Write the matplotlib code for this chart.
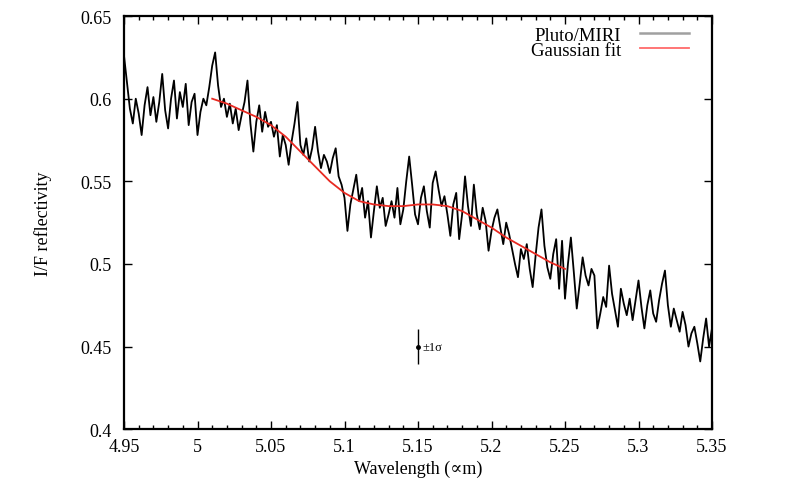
import numpy as np
import matplotlib
matplotlib.use("Agg")
import matplotlib.pyplot as plt
from matplotlib.lines import Line2D
from matplotlib.ticker import MultipleLocator

# ---- data ----
wl_start, wl_step = 4.95, 0.002
refl = [
    # 4.950 - 4.998
    0.626, 0.610, 0.594, 0.585, 0.600, 0.591, 0.578, 0.596, 0.607, 0.590,
    0.601, 0.586, 0.598, 0.615, 0.593, 0.582, 0.600, 0.611, 0.588, 0.604,
    0.595, 0.609, 0.584, 0.598, 0.603,
    # 5.000 - 5.048
    0.578, 0.592, 0.600, 0.596, 0.607, 0.620, 0.628, 0.608, 0.595, 0.600,
    0.589, 0.597, 0.585, 0.594, 0.581, 0.590, 0.598, 0.611, 0.585, 0.568,
    0.586, 0.596, 0.580, 0.592, 0.583,
    # 5.050 - 5.098
    0.586, 0.577, 0.584, 0.565, 0.578, 0.572, 0.560, 0.574, 0.585, 0.598,
    0.572, 0.566, 0.576, 0.562, 0.570, 0.583, 0.568, 0.558, 0.566, 0.562,
    0.555, 0.564, 0.570, 0.553, 0.548,
    # 5.100 - 5.148
    0.540, 0.520, 0.536, 0.545, 0.554, 0.538, 0.546, 0.528, 0.538, 0.516,
    0.532, 0.547, 0.534, 0.540, 0.523, 0.530, 0.538, 0.528, 0.546, 0.524,
    0.533, 0.550, 0.565, 0.548, 0.530,
    # 5.150 - 5.198
    0.524, 0.540, 0.547, 0.532, 0.522, 0.549, 0.556, 0.545, 0.535, 0.541,
    0.530, 0.517, 0.536, 0.543, 0.515, 0.530, 0.553, 0.535, 0.523, 0.548,
    0.530, 0.521, 0.534, 0.526, 0.508,
    # 5.200 - 5.248
    0.520, 0.528, 0.533, 0.522, 0.512, 0.525, 0.518, 0.509, 0.500, 0.492,
    0.509, 0.503, 0.512, 0.497, 0.486, 0.505, 0.522, 0.533, 0.511, 0.498,
    0.491, 0.506, 0.515, 0.485, 0.514,
    # 5.250 - 5.298
    0.479, 0.500, 0.516, 0.495, 0.473, 0.488, 0.504, 0.493, 0.487, 0.497,
    0.493, 0.461, 0.470, 0.480, 0.474, 0.499, 0.482, 0.472, 0.462, 0.485,
    0.476, 0.469, 0.479, 0.466, 0.478,
    # 5.300 - 5.350
    0.490, 0.474, 0.461, 0.475, 0.484, 0.470, 0.465, 0.478, 0.488, 0.496,
    0.475, 0.462, 0.473, 0.466, 0.459, 0.471, 0.463, 0.450, 0.458, 0.462,
    0.452, 0.441, 0.455, 0.467, 0.450, 0.461,
]
wavelength = [wl_start + i * wl_step for i in range(len(refl))]

fit_wl = [5.01, 5.02, 5.03, 5.04, 5.05, 5.06, 5.07, 5.08, 5.09, 5.10,
          5.11, 5.12, 5.13, 5.14, 5.15, 5.16, 5.17, 5.18, 5.19, 5.20,
          5.21, 5.22, 5.23, 5.24, 5.25]
fit_val = [0.600, 0.597, 0.593, 0.589, 0.584, 0.577, 0.568, 0.559, 0.550, 0.543,
           0.538, 0.536, 0.535, 0.535, 0.536, 0.536, 0.535, 0.532, 0.527, 0.522,
           0.516, 0.511, 0.506, 0.501, 0.497]

err_x, err_y, err_sigma = 5.15, 0.45, 0.0105

x_ticks = [4.95, 5.0, 5.05, 5.1, 5.15, 5.2, 5.25, 5.3, 5.35]
x_ticklabels = ["4.95", "5", "5.05", "5.1", "5.15", "5.2", "5.25", "5.3", "5.35"]
y_ticks = [0.4, 0.45, 0.5, 0.55, 0.6, 0.65]
y_ticklabels = ["0.4", "0.45", "0.5", "0.55", "0.6", "0.65"]

# ---- plot ----
serif = ["Liberation Serif", "DejaVu Serif"]
plt.rcParams["font.family"] = serif
plt.rcParams["font.serif"] = serif

fig = plt.figure(figsize=(8.0, 5.02), dpi=100)
ax = fig.add_axes([0.155, 0.143, 0.735, 0.823])

ax.plot(wavelength, refl, color="black", lw=1.3)
ax.plot(fit_wl, fit_val, color="#e82a22", lw=1.3)

ax.errorbar([err_x], [err_y], yerr=[err_sigma], fmt="o", ms=2.5, color="black",
            ecolor="black", elinewidth=1.0, capsize=0)
ax.text(err_x + 0.003, err_y, "±1σ", fontsize=9, va="center", ha="left",
        family=serif)

ax.set_xlim(4.95, 5.35)
ax.set_ylim(0.4, 0.65)
ax.set_xticks(x_ticks)
ax.set_xticklabels(x_ticklabels, family=serif, fontsize=13)
ax.set_yticks(y_ticks)
ax.set_yticklabels(y_ticklabels, family=serif, fontsize=13)
ax.xaxis.set_minor_locator(MultipleLocator(0.01))
ax.tick_params(axis="both", which="major", direction="in", top=True, right=True,
               length=6, width=1.0)
ax.tick_params(axis="x", which="major", pad=6)
ax.tick_params(axis="y", which="major", pad=9)
ax.tick_params(axis="x", which="minor", direction="in", top=True, length=3, width=1.0)
for s in ax.spines.values():
    s.set_linewidth(1.6)

ax.set_xlabel("Wavelength (∝m)", fontsize=13, labelpad=4, family=serif)
ax.set_ylabel("I/F reflectivity", fontsize=13, labelpad=20, family=serif)

handles = [Line2D([], [], color="#a0a0a0", lw=1.8),
           Line2D([], [], color="#ff6a6a", lw=1.3)]
leg = ax.legend(handles, ["Pluto/MIRI", "Gaussian fit"], loc="upper right",
                frameon=False, prop={"family": serif, "size": 13.5}, markerfirst=False,
                handlelength=2.6, handletextpad=1.0, labelspacing=-0.1,
                borderaxespad=0.35, borderpad=0.2, bbox_to_anchor=(0.978, 1.0))

fig.savefig("out.png", dpi=100)
